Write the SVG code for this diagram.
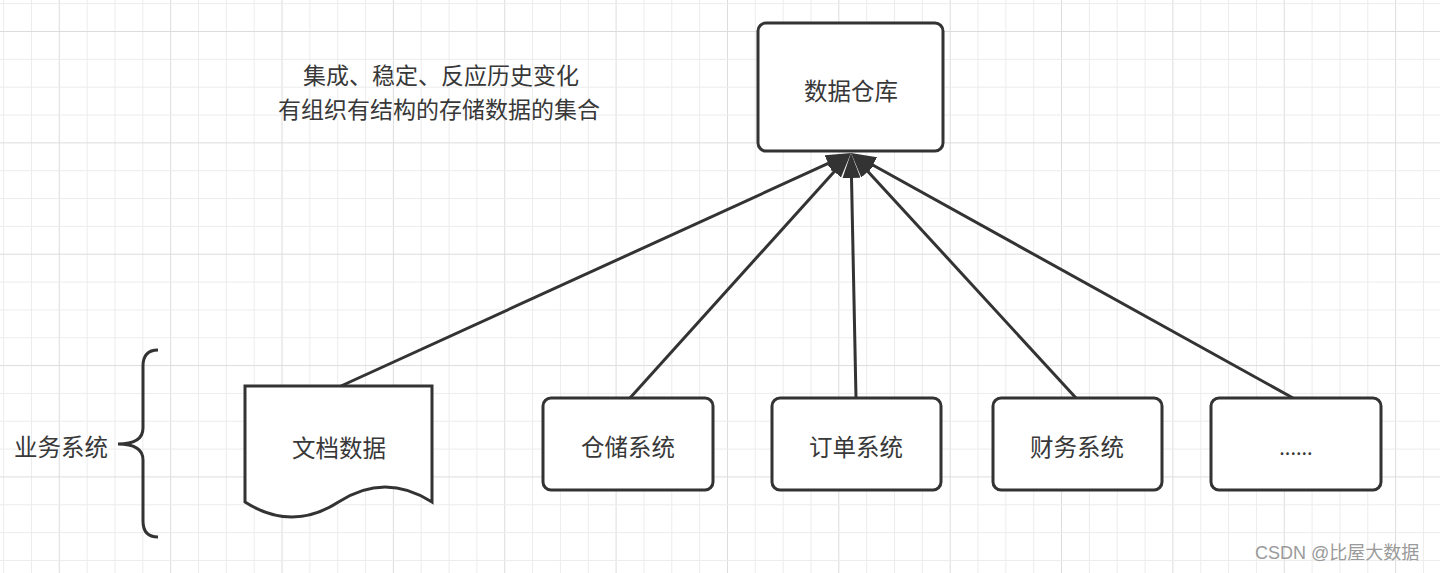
<svg xmlns="http://www.w3.org/2000/svg" width="1440" height="573" viewBox="0 0 1440 573">
<style>
.box{fill:#fff;stroke:#333;stroke-width:3}
.lbl{font-family:"Noto Sans CJK SC","Liberation Sans",sans-serif;font-size:23.5px;fill:#383838;text-anchor:middle;dominant-baseline:central}
.edge{stroke:#333;stroke-width:3;fill:none;marker-end:url(#arr)}
</style>
<defs>
<pattern id="grid" patternUnits="userSpaceOnUse" x="58.8" y="31" width="111.36" height="111.36">
<rect x="0" y="0" width="1" height="111.36" fill="#dcdcdc"/>
<rect x="27.84" y="0" width="1" height="111.36" fill="#ececec"/>
<rect x="55.68" y="0" width="1" height="111.36" fill="#ececec"/>
<rect x="83.52" y="0" width="1" height="111.36" fill="#ececec"/>
<rect x="0" y="0" width="111.36" height="1" fill="#dcdcdc"/>
<rect x="0" y="27.84" width="111.36" height="1" fill="#ececec"/>
<rect x="0" y="55.68" width="111.36" height="1" fill="#ececec"/>
<rect x="0" y="83.52" width="111.36" height="1" fill="#ececec"/>
</pattern>
<marker id="arr" viewBox="0 0 25 18" refX="15" refY="9" markerWidth="25" markerHeight="18" markerUnits="userSpaceOnUse" orient="auto">
<path d="M0,0 L25,9 L0,18 Z" fill="#333"/>
</marker>
</defs>
<rect width="1440" height="573" fill="#fff"/>
<rect width="1440" height="573" fill="url(#grid)"/>

<g id="connectors">
<line class="edge" x1="341" y1="386" x2="841.9" y2="157.2"/>
<line class="edge" x1="630" y1="398" x2="844.3" y2="160.4"/>
<line class="edge" x1="1076" y1="398" x2="857.8" y2="160.4"/>
<line class="edge" x1="1293" y1="398" x2="859.7" y2="157.8"/>
<line class="edge" x1="856" y1="398" x2="851.2" y2="163"/>
</g>

<g id="note">
<text class="lbl" style="font-size:23px"><tspan x="441" y="74">集成、稳定、反应历史变化</tspan><tspan x="439" y="107.5">有组织有结构的存储数据的集合</tspan></text>
</g>

<g id="dw">
<rect class="box" x="758" y="23" width="185" height="128" rx="8"/>
<text class="lbl" x="851" y="90">数据仓库</text>
</g>

<g id="doc">
<path class="box" d="M245,386 H432 V502 Q385,472 338.5,502 Q292,532 245,502 Z"/>
<text class="lbl" x="339" y="447">文档数据</text>
</g>

<g id="storage">
<rect class="box" x="543" y="398" width="170" height="92" rx="8"/>
<text class="lbl" x="628" y="446">仓储系统</text>
</g>

<g id="order">
<rect class="box" x="772" y="398" width="169" height="92" rx="8"/>
<text class="lbl" x="856" y="446">订单系统</text>
</g>

<g id="finance">
<rect class="box" x="993" y="398" width="169" height="92" rx="8"/>
<text class="lbl" x="1077" y="446">财务系统</text>
</g>

<g id="more">
<rect class="box" x="1211" y="398" width="170" height="92" rx="8"/>
<text class="lbl" x="1296" y="446" style="font-size:20px">......</text>
</g>

<g id="biz">
<path d="M158,350 Q143,350 143,366 V428 Q143,444 118,444 Q143,444 143,460 V521 Q143,537 158,537" fill="none" stroke="#333" stroke-width="3"/>
<text class="lbl" x="61" y="446">业务系统</text>
</g>

<text x="1255" y="553" font-family="'Liberation Sans','Noto Sans CJK SC',sans-serif" font-size="18" fill="#9a9a9a" dominant-baseline="central">CSDN @比屋大数据</text>
</svg>
